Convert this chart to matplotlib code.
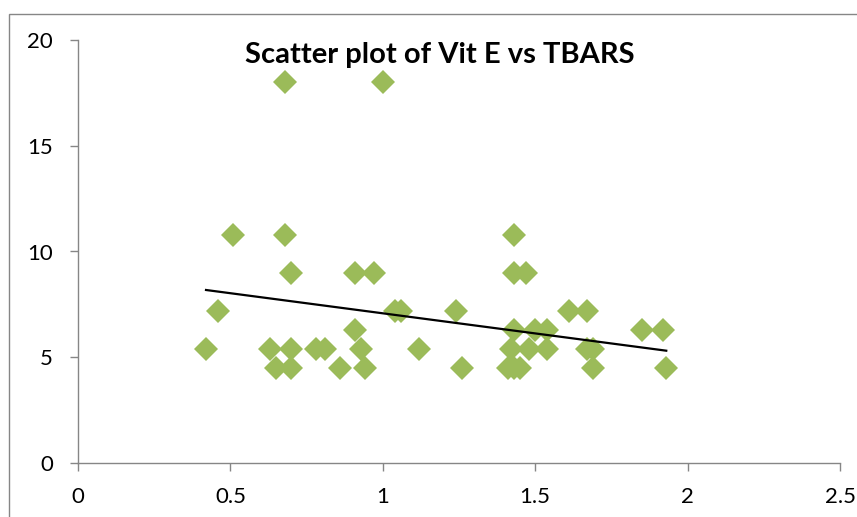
import numpy as np
import matplotlib
matplotlib.use("Agg")
import matplotlib.pyplot as plt
from matplotlib.patches import Rectangle

# Data
vit_e = [0.68, 1.00,
         0.51, 0.68, 1.43,
         0.70, 0.91, 0.97, 1.43, 1.47,
         0.46, 1.04, 1.06, 1.24, 1.61, 1.67,
         0.91, 1.43, 1.50, 1.54, 1.85, 1.92,
         0.42, 0.63, 0.70, 0.78, 0.81, 0.93, 1.12, 1.42, 1.48, 1.54, 1.67, 1.69,
         0.65, 0.70, 0.86, 0.94, 1.26, 1.41, 1.43, 1.45, 1.69, 1.93]
tbars = [18, 18,
         10.8, 10.8, 10.8,
         9, 9, 9, 9, 9,
         7.2, 7.2, 7.2, 7.2, 7.2, 7.2,
         6.3, 6.3, 6.3, 6.3, 6.3, 6.3,
         5.4, 5.4, 5.4, 5.4, 5.4, 5.4, 5.4, 5.4, 5.4, 5.4, 5.4, 5.4,
         4.5, 4.5, 4.5, 4.5, 4.5, 4.5, 4.5, 4.5, 4.5, 4.5]
# linear trendline as drawn in the reference (end values)
trend_x = [0.42, 1.93]
trend_y = [8.18, 5.31]

title = "Scatter plot of Vit E vs TBARS"
xticks = [0, 0.5, 1, 1.5, 2, 2.5]
xticklabels = ["0", "0.5", "1", "1.5", "2", "2.5"]
yticks = [0, 5, 10, 15, 20]

W, H = 857, 517
fig = plt.figure(figsize=(W / 100, H / 100), dpi=100)
ax = fig.add_axes([78 / W, (H - 463) / H, (840 - 78) / W, (463 - 40) / H])

ax.plot(vit_e, tbars, linestyle="none", marker="D", markersize=12,
        color="#9BBB59", markeredgewidth=0, zorder=3)
ax.plot(trend_x, trend_y, color="black", linewidth=1.6, zorder=4)

ax.set_xlim(0, 2.5)
ax.set_ylim(0, 20)
ax.set_xticks(xticks)
ax.set_xticklabels(xticklabels)
ax.set_yticks(yticks)

for s in ["top", "right"]:
    ax.spines[s].set_visible(False)
for s in ["left", "bottom"]:
    ax.spines[s].set_color("#868686")
    ax.spines[s].set_linewidth(1.0)

fam = ["Lato", "DejaVu Sans"]
ax.tick_params(axis="both", direction="out", length=6, width=1.0,
               color="#868686", labelsize=16, labelcolor="black")
ax.tick_params(axis="x", pad=11)
ax.tick_params(axis="y", pad=12)
for lab in ax.get_xticklabels() + ax.get_yticklabels():
    lab.set_fontfamily(fam)

fig.text(440 / W, 1 - 55 / H, title, ha="center", va="center",
         fontsize=21, fontweight="bold", family=["Lato", "DejaVu Sans"])

# outer chart border (partially cut off in the reference)
fig.patches.append(Rectangle((8.5 / W, -0.1), 2.0, 1.1 - 13.5 / H,
                             transform=fig.transFigure, fill=False,
                             edgecolor="#868686", linewidth=1.0))

fig.savefig("out.png", dpi=100)
